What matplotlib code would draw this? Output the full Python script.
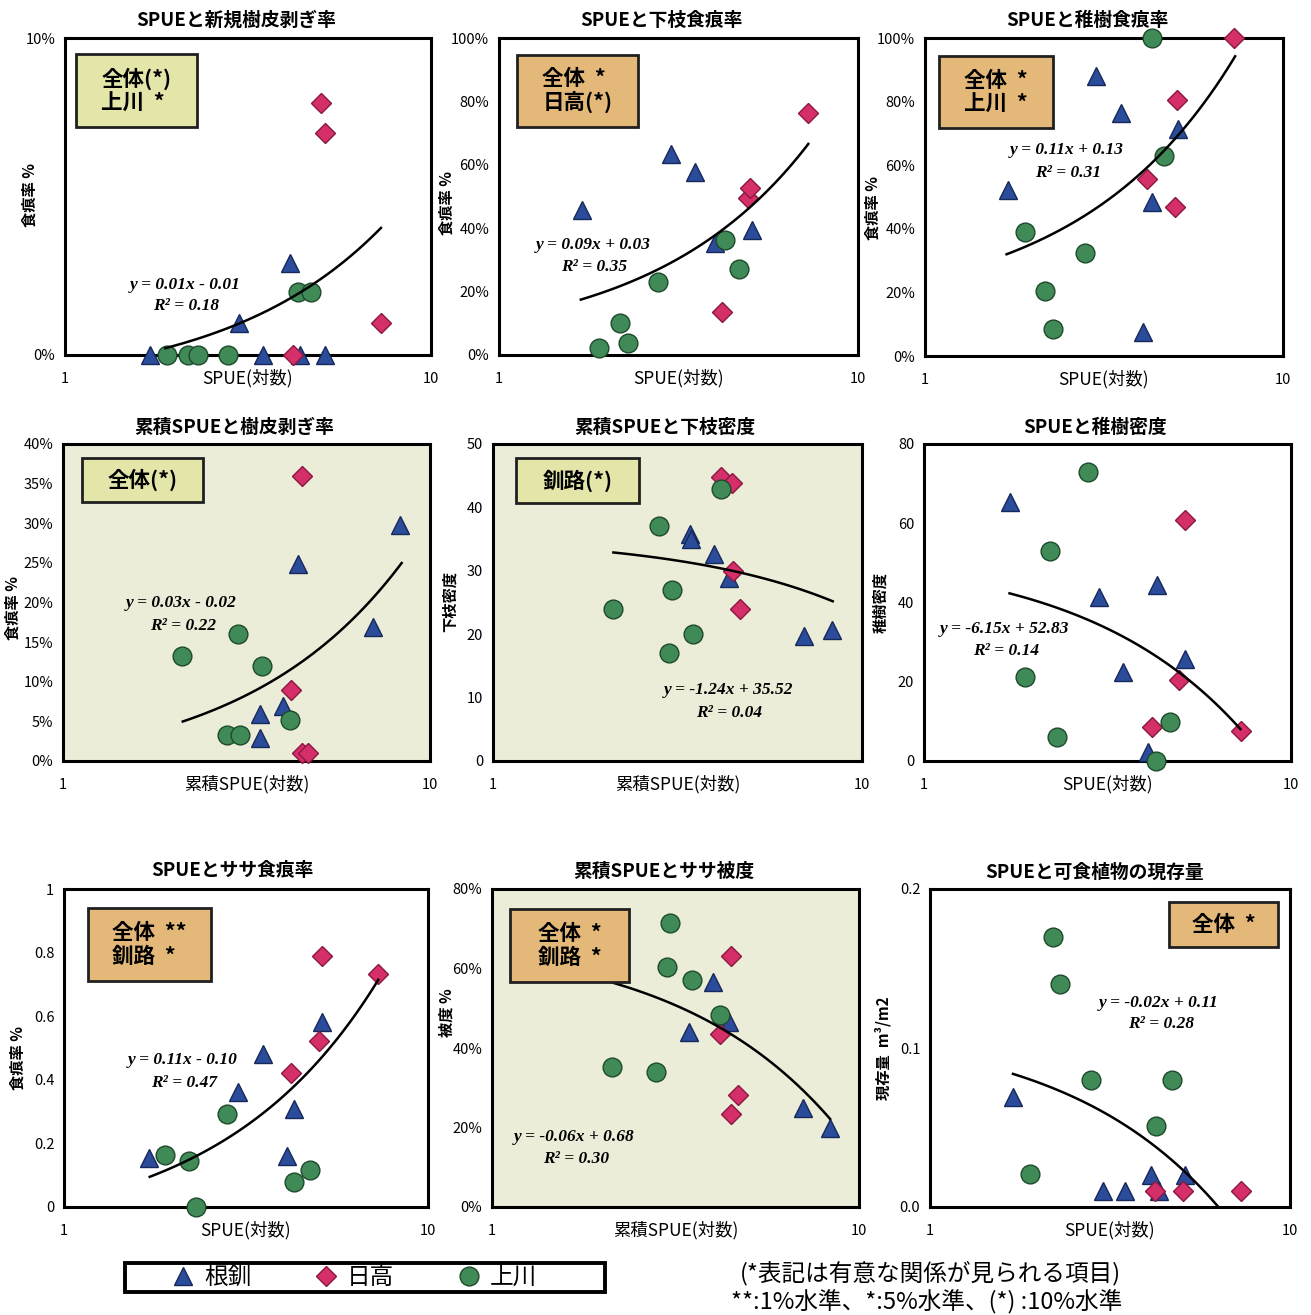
import numpy as np
import matplotlib
matplotlib.use("Agg")
import matplotlib.pyplot as plt
from matplotlib.patches import Rectangle
from matplotlib.lines import Line2D
from matplotlib.ticker import FixedLocator, NullLocator, FuncFormatter

plt.rcParams['font.family'] = ['Noto Sans CJK JP', 'DejaVu Sans']

# ---- data: (SPUE, value) per region; 根釧=tri, 日高=dia, 上川=cir ----
# SPUEと新規樹皮剥ぎ率
bark_new_tri = ([1.71, 2.99, 3.47, 4.12, 4.39, 5.13], [0.0, 0.010, 0.0, 0.029, 0.0, 0.0])
bark_new_dia = ([4.20, 5.00, 5.13, 7.30], [0.0, 0.0795, 0.070, 0.010])
bark_new_cir = ([1.90, 2.17, 2.31, 2.79, 4.33, 4.70], [0.0, 0.0, 0.0, 0.0, 0.020, 0.020])
# SPUEと下枝食痕率
branch_tri = ([1.70, 3.01, 3.52, 4.00, 5.06], [0.457, 0.634, 0.577, 0.353, 0.394])
branch_dia = ([4.17, 4.95, 5.00, 7.27], [0.137, 0.494, 0.526, 0.764])
branch_cir = ([1.90, 2.17, 2.29, 2.78, 4.26, 4.67], [0.021, 0.102, 0.039, 0.231, 0.363, 0.270])
# SPUEと稚樹食痕率
sapling_tri = ([1.71, 3.00, 3.52, 4.07, 4.30, 5.10], [0.522, 0.881, 0.763, 0.076, 0.485, 0.713])
sapling_dia = ([4.18, 4.99, 5.07, 7.30], [0.557, 0.470, 0.805, 1.0])
sapling_cir = ([1.90, 2.17, 2.28, 2.79, 4.30, 4.65], [0.391, 0.204, 0.084, 0.323, 1.0, 0.630])
# 累積SPUEと樹皮剥ぎ率
bark_cum_tri = ([3.44, 3.44, 3.98, 4.36, 6.98, 8.28], [0.059, 0.029, 0.069, 0.249, 0.169, 0.298])
bark_cum_dia = ([4.17, 4.47, 4.47, 4.66], [0.090, 0.360, 0.010, 0.010])
bark_cum_cir = ([2.11, 2.79, 2.99, 3.04, 3.48, 4.15], [0.132, 0.033, 0.160, 0.033, 0.120, 0.052])
# 累積SPUEと下枝密度
brdens_tri = ([3.42, 3.44, 3.98, 4.36, 6.96, 8.28], [35.8, 35.0, 32.6, 28.8, 19.7, 20.7])
brdens_dia = ([4.16, 4.43, 4.46, 4.67], [44.8, 43.9, 30.0, 24.0])
brdens_cir = ([2.12, 2.81, 2.99, 3.05, 3.48, 4.15], [24.0, 37.1, 17.1, 26.9, 20.0, 42.9])
# SPUEと稚樹密度
sadens_tri = ([1.72, 3.00, 3.49, 4.08, 4.31, 5.14], [65.4, 41.3, 22.4, 2.3, 44.4, 25.7])
sadens_dia = ([4.19, 4.95, 5.14, 7.31], [8.5, 20.4, 60.8, 7.6])
sadens_cir = ([1.89, 2.20, 2.30, 2.80, 4.28, 4.68], [21.1, 53.1, 6.0, 73.0, 0.0, 9.9])
# SPUEとササ食痕率
sasa_tri = ([1.71, 3.01, 3.53, 4.09, 4.29, 5.10], [0.153, 0.363, 0.481, 0.160, 0.307, 0.583])
sasa_dia = ([4.20, 5.02, 5.10, 7.30], [0.420, 0.523, 0.789, 0.733])
sasa_cir = ([1.90, 2.21, 2.31, 2.80, 4.28, 4.74], [0.163, 0.146, 0.0, 0.292, 0.078, 0.116])
# 累積SPUEとササ被度
cover_tri = ([3.44, 4.01, 4.42, 7.02, 8.34], [0.439, 0.567, 0.466, 0.248, 0.198])
cover_dia = ([4.18, 4.48, 4.48, 4.69], [0.434, 0.631, 0.233, 0.282])
cover_cir = ([2.12, 2.80, 2.99, 3.05, 3.50, 4.18], [0.351, 0.340, 0.603, 0.715, 0.571, 0.483])
# SPUEと可食植物の現存量
stock_tri = ([1.70, 3.02, 3.48, 4.11, 4.33, 5.11], [0.069, 0.010, 0.010, 0.020, 0.010, 0.020])
stock_dia = ([4.22, 5.03, 7.31], [0.010, 0.010, 0.010])
stock_cir = ([1.90, 2.20, 2.30, 2.80, 4.24, 4.69], [0.021, 0.170, 0.140, 0.080, 0.051, 0.080])

# linear trend y = a*x + b, drawn from x_start to x_end
trends = [(0.007, -0.011, 1.88, 7.30), (0.088, 0.026, 1.69, 7.27), (0.110, 0.134, 1.69, 7.35),
          (0.032, -0.018, 2.12, 8.37), (-1.24, 35.52, 2.12, 8.33), (-6.15, 52.83, 1.71, 7.28),
          (0.111, -0.096, 1.72, 7.30), (-0.0552, 0.682, 2.13, 8.34), (-0.0181, 0.1145, 1.70, 7.31)]
eq_labels = [("y = 0.01x - 0.01", "R² = 0.18"), ("y = 0.09x + 0.03", "R² = 0.35"),
             ("y = 0.11x + 0.13", "R² = 0.31"), ("y = 0.03x - 0.02", "R² = 0.22"),
             ("y = -1.24x + 35.52", "R² = 0.04"), ("y = -6.15x + 52.83", "R² = 0.14"),
             ("y = 0.11x - 0.10", "R² = 0.47"), ("y = -0.06x + 0.68", "R² = 0.30"),
             ("y = -0.02x + 0.11", "R² = 0.28")]
titles = ["SPUEと新規樹皮剥ぎ率", "SPUEと下枝食痕率", "SPUEと稚樹食痕率",
          "累積SPUEと樹皮剥ぎ率", "累積SPUEと下枝密度", "SPUEと稚樹密度",
          "SPUEとササ食痕率", "累積SPUEとササ被度", "SPUEと可食植物の現存量"]
ylabels = ["食痕率 %", "食痕率 %", "食痕率 %", "食痕率 %", "下枝密度", "稚樹密度",
           "食痕率 %", "被度 %", "現存量  m³/m2"]
xlabels = ["SPUE(対数)", "SPUE(対数)", "SPUE(対数)", "累積SPUE(対数)", "累積SPUE(対数)",
           "SPUE(対数)", "SPUE(対数)", "累積SPUE(対数)", "SPUE(対数)"]
yticks = [[0, 0.1], np.arange(0, 1.01, 0.2), np.arange(0, 1.01, 0.2), np.arange(0, 0.401, 0.05),
          np.arange(0, 51, 10), np.arange(0, 81, 20), np.arange(0, 1.01, 0.2),
          np.arange(0, 0.81, 0.2), [0, 0.1, 0.2]]
yfmt = ['pct', 'pct', 'pct', 'pct', '%g', '%g', '%g', 'pct', '%.1f']
signif = ["全体(*)\n上川  *", "全体  *\n日高(*)", "全体  *\n上川  *", "全体(*)", "釧路(*)",
          None, "全体  **\n釧路  *", "全体  *\n釧路  *", "全体  *"]
series = [(bark_new_tri, bark_new_dia, bark_new_cir), (branch_tri, branch_dia, branch_cir),
          (sapling_tri, sapling_dia, sapling_cir), (bark_cum_tri, bark_cum_dia, bark_cum_cir),
          (brdens_tri, brdens_dia, brdens_cir), (sadens_tri, sadens_dia, sadens_cir),
          (sasa_tri, sasa_dia, sasa_cir), (cover_tri, cover_dia, cover_cir),
          (stock_tri, stock_dia, stock_cir)]
regions = ["根釧", "日高", "上川"]

# ---- layout (pixels) ----
W, H = 1311, 1315
axes_px = [(65, 38, 431, 355), (499, 38, 858, 355), (925, 38, 1283, 356),
           (63, 444, 430, 761), (493, 444, 862, 761), (924, 444, 1291, 761),
           (64, 889, 428, 1207), (492, 889, 859, 1207), (930, 889, 1290, 1207)]
title_px = [(236, 20), (661, 20), (1087, 20), (234, 427), (665, 427), (1095, 427),
            (232, 870), (664, 871), (1094, 872)]
ylabel_px = [(30, 195), (447, 203), (873, 208), (13, 608), (450, 602), (880, 603),
             (18, 1058), (447, 1013), (883, 1048)]
eq_px = [(185, 285, 186, 306), (593, 245, 594, 267), (1067, 150, 1068, 173),
         (181, 603, 183, 626), (728, 690, 729, 713), (1004, 629, 1006, 651),
         (183, 1060, 184, 1083), (574, 1137, 576, 1159), (1159, 1003, 1161, 1024)]
box_px = [(76, 54, 197, 127), (517, 55, 638, 127), (939, 56, 1053, 128),
          (82, 458, 203, 502), (516, 458, 639, 503), None,
          (88, 908, 211, 981), (510, 909, 629, 982), (1169, 902, 1278, 947)]
KHAKI, TAN, PAPER = '#e3e5a9', '#e3b878', '#ecedd8'
box_color = [KHAKI, TAN, TAN, KHAKI, KHAKI, None, TAN, TAN, TAN]
textured = [False, False, False, True, True, False, False, True, False]

styles = [dict(marker='^', ms=13, mfc='#2b4c9b', mec='#17285a'),
          dict(marker='D', ms=10.5, mfc='#d42f69', mec='#8a1840'),
          dict(marker='o', ms=13.5, mfc='#3f8a57', mec='#1d4a2b')]


def fx(px):
    return px / W


def fy(py):
    return 1 - py / H


fig = plt.figure(figsize=(W / 100, H / 100), dpi=100)
fig.patch.set_facecolor('white')

for i in range(9):
    x0, yt, x1, yb = axes_px[i]
    ax = fig.add_axes([fx(x0), fy(yb), (x1 - x0) / W, (yb - yt) / H])
    ax.set_xscale('log')
    ax.set_xlim(1, 10)
    ticks = list(yticks[i])
    ax.set_ylim(ticks[0], ticks[-1])
    ax.xaxis.set_major_locator(FixedLocator([1, 10]))
    ax.xaxis.set_minor_locator(NullLocator())
    ax.xaxis.set_major_formatter(FuncFormatter(lambda v, p: '%g' % v))
    ax.yaxis.set_major_locator(FixedLocator(ticks))
    if yfmt[i] == 'pct':
        ax.yaxis.set_major_formatter(FuncFormatter(lambda v, p: '%d%%' % round(v * 100)))
    else:
        ax.yaxis.set_major_formatter(FuncFormatter(lambda v, p, f=yfmt[i]: f % v))
    ax.tick_params(axis='both', length=0, labelsize=10.5)
    ax.tick_params(axis='x', pad=12)
    ax.tick_params(axis='y', pad=7)
    for s in ax.spines.values():
        s.set_linewidth(2.2)
    ax.set_facecolor(PAPER if textured[i] else 'white')

    for (xs, ys), st in zip(series[i], styles):
        ax.plot(xs, ys, ls='none', clip_on=False, zorder=3, mew=1.0, **st)

    a, b, xs0, xs1 = trends[i]
    xt = np.geomspace(xs0, xs1, 120)
    ax.plot(xt, a * xt + b, color='black', lw=1.8, zorder=4)

    fig.text(fx(title_px[i][0]), fy(title_px[i][1]), titles[i], ha='center', va='center',
             fontsize=13.5, fontweight='bold')
    fig.text(fx((x0 + x1) / 2), fy(yb + 23), xlabels[i], ha='center', va='center', fontsize=12.5)
    fig.text(fx(ylabel_px[i][0]), fy(ylabel_px[i][1]), ylabels[i], ha='center', va='center',
             rotation=90, fontsize=11, fontweight='bold')

    ex1, ey1, ex2, ey2 = eq_px[i]
    for (ex, ey), line in zip([(ex1, ey1), (ex2, ey2)], eq_labels[i]):
        fig.text(fx(ex), fy(ey), line, ha='center', va='center', fontsize=12.5,
                 family='Liberation Serif', style='italic', fontweight='bold', zorder=6)

    if box_px[i] is not None:
        bx0, by0, bx1, by1 = box_px[i]
        fig.add_artist(Rectangle((fx(bx0), fy(by1)), (bx1 - bx0) / W, (by1 - by0) / H,
                                 transform=fig.transFigure, facecolor=box_color[i],
                                 edgecolor='#202020', lw=2.0, zorder=5))
        fig.text(fx((bx0 + bx1) / 2), fy((by0 + by1) / 2), signif[i], ha='center', va='center',
                 multialignment='left', fontsize=15.5, fontweight='bold', linespacing=1.15, zorder=6)

# legend
fig.add_artist(Rectangle((fx(125), fy(1292)), 480 / W, 29 / H, transform=fig.transFigure,
                         facecolor='white', edgecolor='black', lw=2.8, zorder=5))
handles = [Line2D([], [], ls='none', mew=1.0, **st) for st in styles]
leg = fig.legend(handles, regions, loc='center', ncol=3, mode='expand', frameon=False,
                 bbox_to_anchor=(fx(158), fy(1292), 392 / W, 29 / H), fontsize=17,
                 handlelength=1.0, handletextpad=0.4, borderpad=0.05)
leg.set_zorder(6)

fig.text(fx(930), fy(1273), "(*表記は有意な関係が見られる項目)", ha='center', va='center', fontsize=17)
fig.text(fx(927), fy(1302), "**:1%水準、*:5%水準、(*) :10%水準", ha='center', va='center', fontsize=17)

fig.savefig("out.png", dpi=100)
